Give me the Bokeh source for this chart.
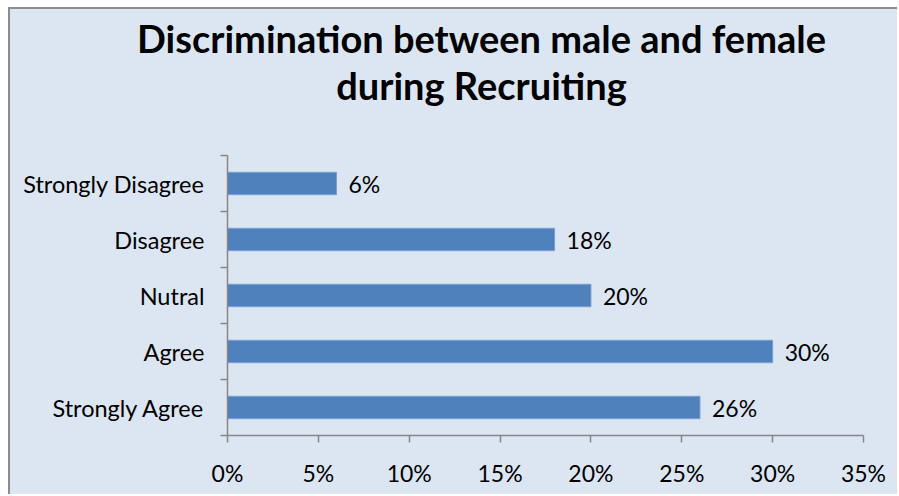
from bokeh.plotting import figure
from bokeh.models import (Range1d, FixedTicker, NumeralTickFormatter, ColumnDataSource,
                          LabelSet, Label)
from bokeh.core.properties import value
from bokeh.embed import file_html
from bokeh.resources import INLINE

# ---- data (bottom to top) ----
categories = ["Strongly Agree", "Agree", "Nutral", "Disagree", "Strongly Disagree"]
shares = [0.26, 0.30, 0.20, 0.18, 0.06]
x_ticks = [0.0, 0.05, 0.10, 0.15, 0.20, 0.25, 0.30, 0.35]
title_lines = ["Discrimination between male and female", "during Recruiting"]

FONT = "Lato"
BG = "#DCE6F2"
AXIS = "#868686"
BAR = "#4F81BD"
TXT = "23px"

pos = [i + 0.5 for i in range(len(categories))]
bounds = [float(i) for i in range(len(categories) + 1)]

src = ColumnDataSource(dict(
    y=pos, v=shares, cat=categories,
    lbl=[f"{s:.0%}" for s in shares],
))

p = figure(width=889, height=487, output_backend="svg", toolbar_location=None,
           x_range=Range1d(0, 0.35), y_range=Range1d(0, len(categories)),
           min_border_left=217, min_border_right=36, min_border_top=146, min_border_bottom=61)
p.styles = {"margin-left": "8px", "margin-top": "7px", "background-color": BG,
            "border-left": "2px solid #8c8c8c", "border-top": "2px solid #8c8c8c"}

p.background_fill_color = BG
p.border_fill_color = BG
p.outline_line_color = None
p.grid.visible = False

p.hbar(y="y", right="v", left=0, height=0.4, source=src,
       fill_color=BAR, line_color="#7A9FD0", line_width=1)

labels = LabelSet(x="v", y="y", text="lbl", source=src, x_offset=12,
                  text_baseline="middle", text_font=value(FONT), text_font_size=TXT,
                  text_color="black")
p.add_layout(labels)

# x axis
xa = p.xaxis[0]
xa.ticker = FixedTicker(ticks=x_ticks)
xa.formatter = NumeralTickFormatter(format="0%")
xa.axis_line_color = AXIS
xa.axis_line_width = 1.5
xa.major_tick_line_color = AXIS
xa.major_tick_line_width = 1.5
xa.major_tick_in = 0
xa.major_tick_out = 7
xa.minor_tick_line_color = None
xa.major_label_text_font = FONT
xa.major_label_text_font_size = TXT
xa.major_label_text_color = "black"
xa.major_label_standoff = 16

# y axis
ya = p.yaxis[0]
ya.ticker = FixedTicker(ticks=pos, minor_ticks=bounds)
ya.major_label_overrides = {pv: c for pv, c in zip(pos, categories)}
ya.axis_line_color = AXIS
ya.axis_line_width = 1.5
ya.major_tick_line_color = None
ya.major_tick_in = 0
ya.major_tick_out = 0
ya.minor_tick_line_color = AXIS
ya.minor_tick_line_width = 1.5
ya.minor_tick_in = 0
ya.minor_tick_out = 7
ya.major_label_text_font = FONT
ya.major_label_text_font_size = "23.5px"
ya.major_label_text_color = "black"
ya.major_label_standoff = 16

# title (two centred lines, canvas coordinates, in the side panel so not clipped)
for txt, yy in zip(title_lines, [26, 73]):
    p.add_layout(Label(x=469, y=yy, x_units="canvas", y_units="canvas", text=txt,
                       text_align="center", text_baseline="alphabetic",
                       text_font=FONT, text_font_style="bold", text_font_size="38px",
                       text_color="black"), "above")

open("out.html", "w").write(file_html(p, INLINE))
